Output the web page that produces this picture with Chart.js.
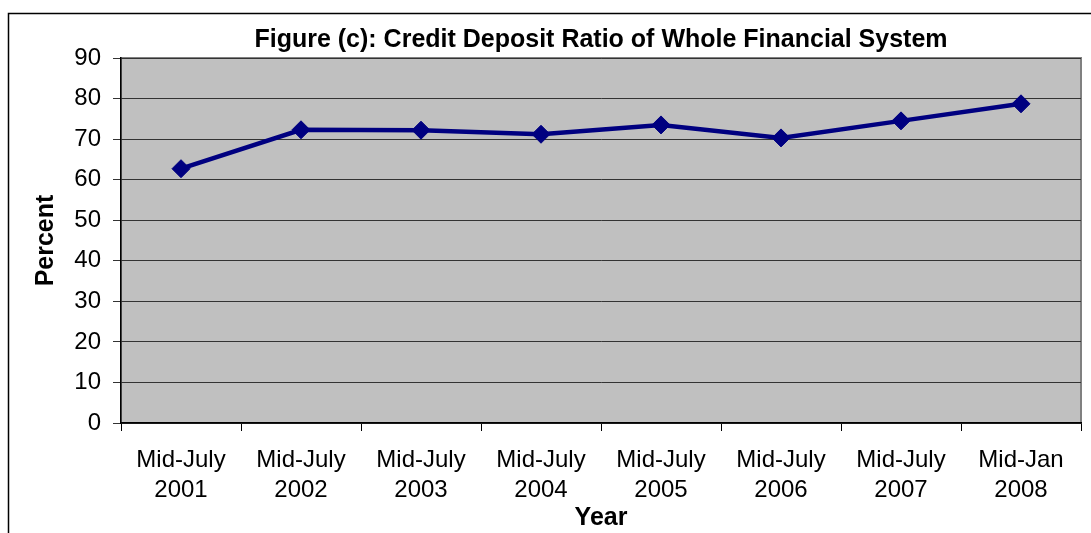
<!DOCTYPE html>
<html>
<head>
<meta charset="utf-8">
<script src="https://cdn.jsdelivr.net/npm/chart.js@4.4.1/dist/chart.umd.min.js"></script>
<style>
  html, body { margin: 0; padding: 0; background: #fff; }
  canvas { display: block; }
</style>
</head>
<body>
<canvas id="ratioChart" width="1091" height="533"></canvas>
<script>
const years = [
    ['Mid-July', '2001'], ['Mid-July', '2002'], ['Mid-July', '2003'], ['Mid-July', '2004'],
    ['Mid-July', '2005'], ['Mid-July', '2006'], ['Mid-July', '2007'], ['Mid-Jan', '2008']
];
const ratio = [62.7, 72.3, 72.2, 71.2, 73.5, 70.3, 74.5, 78.7];
const yMin = 0;
const yMax = 90;
const yStep = 10;

const navy = '#000080';
const plotGray = '#c0c0c0';
const fontFamily = '"Liberation Sans", Arial, sans-serif';

const frame = {
    id: 'frame',
    beforeDraw(chart) {
        const ctx = chart.ctx;
        const a = chart.chartArea;
        ctx.save();
        ctx.fillStyle = '#fff';
        ctx.fillRect(0, 0, chart.width, chart.height);
        ctx.strokeStyle = '#000';
        ctx.lineWidth = 1.5;
        ctx.strokeRect(8.5, 13.5, 1200, 600);
        ctx.fillStyle = plotGray;
        ctx.fillRect(a.left, a.top, a.right - a.left, a.bottom - a.top);
        ctx.strokeStyle = '#808080';
        ctx.lineWidth = 2;
        ctx.strokeRect(a.left, a.top, a.right - a.left, a.bottom - a.top);
        ctx.restore();
    }
};

new Chart(document.getElementById('ratioChart').getContext('2d'), {
    type: 'line',
    data: {
        labels: years,
        datasets: [{
            label: 'Credit Deposit Ratio',
            data: ratio,
            borderColor: navy,
            backgroundColor: navy,
            borderWidth: 4.5,
            pointStyle: 'rectRot',
            pointRadius: 9,
            pointBorderWidth: 1,
            pointBackgroundColor: navy,
            pointBorderColor: navy,
            tension: 0,
            fill: false
        }]
    },
    options: {
        responsive: false,
        animation: false,
        layout: { padding: { top: 0, left: 0, right: 5, bottom: 0 } },
        plugins: {
            legend: { display: false },
            tooltip: { enabled: false },
            title: {
                display: true,
                fullSize: false,
                text: 'Figure (c): Credit Deposit Ratio of Whole Financial System',
                color: '#000',
                font: { family: fontFamily, size: 25, weight: 'bold', lineHeight: 1.2 },
                padding: { top: 25, bottom: 3 }
            }
        },
        scales: {
            x: {
                offset: true,
                afterFit: s => { s.height = 110; },
                grid: {
                    offset: true,
                    drawOnChartArea: false,
                    drawTicks: true,
                    tickLength: 8,
                    color: '#000'
                },
                border: { display: true, color: '#000', width: 1.5 },
                ticks: {
                    color: '#000',
                    maxRotation: 0,
                    autoSkip: false,
                    padding: 14,
                    font: { family: fontFamily, size: 24, lineHeight: 1.25 }
                },
                title: {
                    display: true,
                    text: 'Year',
                    color: '#000',
                    font: { family: fontFamily, size: 25, weight: 'bold', lineHeight: 1.2 },
                    padding: { top: 0, bottom: 0 }
                }
            },
            y: {
                min: yMin,
                max: yMax,
                afterFit: s => { s.width = 121; },
                grid: {
                    color: '#333',
                    lineWidth: 1,
                    tickLength: 8
                },
                border: { display: true, color: '#000', width: 1.5 },
                ticks: {
                    stepSize: yStep,
                    color: '#000',
                    padding: 12,
                    font: { family: fontFamily, size: 24 }
                },
                title: {
                    display: true,
                    text: 'Percent',
                    color: '#000',
                    font: { family: fontFamily, size: 25, weight: 'bold', lineHeight: 1.2 },
                    padding: { top: 31, bottom: 0 }
                }
            }
        }
    },
    plugins: [frame]
});
</script>
</body>
</html>
